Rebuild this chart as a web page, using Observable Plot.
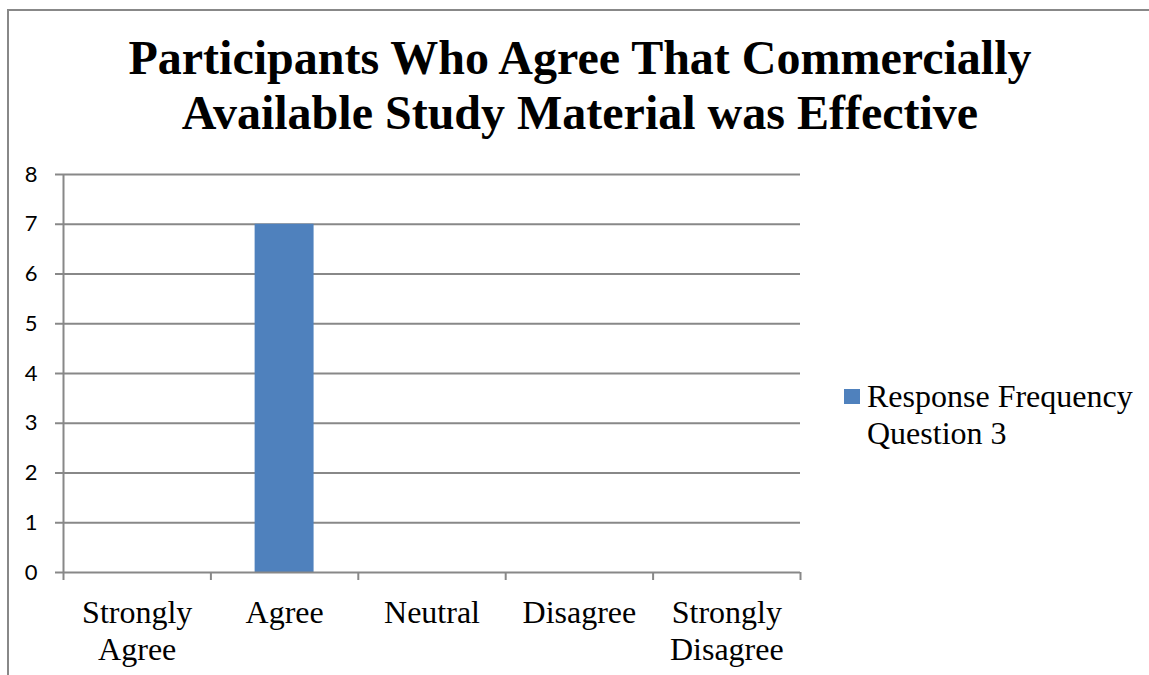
<!DOCTYPE html>
<html>
<head>
<meta charset="utf-8">
<script src="https://cdn.jsdelivr.net/npm/d3@7"></script>
<script src="https://cdn.jsdelivr.net/npm/@observablehq/plot@0.6"></script>
<style>
  html, body { margin: 0; padding: 0; background: #fff; overflow: hidden; }
  #wrap { position: relative; width: 1149px; height: 675px; overflow: hidden; background: #fff; }
  #frame { position: absolute; left: 7px; top: 9px; width: 1300px; height: 800px; border: 2px solid #888; box-sizing: border-box; }
  #title { position: absolute; left: 0; top: 30px; width: 1160px; text-align: center;
           font-family: "Liberation Serif", "Times New Roman", serif; font-weight: bold; font-size: 48px; line-height: 55px; color: #000; }
  #chart { position: absolute; left: 0; top: 0; }
  #legend { position: absolute; left: 844px; top: 378px; font-family: "Liberation Serif", serif; font-size: 32px; line-height: 37px; color: #000; }
  #legend .sw { position: absolute; left: 0; top: 11px; width: 16px; height: 15px; background: #4f81bd; }
  #legend .lbl { position: absolute; left: 23px; top: 0; white-space: nowrap; }
</style>
</head>
<body>
<div id="wrap">
  <div id="frame"></div>
  <div id="chart"></div>
  <div id="title">Participants Who Agree That Commercially<br>Available Study Material was Effective</div>
  <div id="legend"><div class="sw"></div><div class="lbl" id="legendText"></div></div>
</div>
<script>
const categories = ["Strongly Agree", "Agree", "Neutral", "Disagree", "Strongly Disagree"];
const responseFrequency = [0, 7, 0, 0, 0];
const yTicks = [0, 1, 2, 3, 4, 5, 6, 7, 8];
const seriesName = ["Response Frequency", "Question 3"];

const data = categories.map((c, i) => ({category: c, index: i, value: responseFrequency[i]}));
const gray = "#888888";

document.getElementById("legendText").innerHTML = seriesName.join("<br>");

const chart = Plot.plot({
  width: 1149,
  height: 675,
  marginLeft: 63,
  marginRight: 349,
  marginTop: 174,
  marginBottom: 103,
  x: {type: "linear", domain: [0, categories.length]},
  y: {domain: [0, 8]},
  style: {background: "transparent"},
  marks: [
    Plot.gridY(yTicks.slice(1), {stroke: gray, strokeOpacity: 1, strokeWidth: 2}),
    Plot.rectY(data, {x1: d => d.index + 0.3, x2: d => d.index + 0.7, y1: 0, y2: "value", fill: "#4f81bd"}),
    Plot.ruleX([0], {stroke: gray, strokeWidth: 2}),
    Plot.ruleY([0], {stroke: gray, strokeWidth: 2}),
    Plot.axisY(yTicks, {tickSize: 8, stroke: gray, strokeWidth: 2, tickFormat: () => "", label: null}),
    Plot.text(yTicks, {x: 0, y: d => d, text: d => String(d), textAnchor: "end", dx: -26,
      fontSize: 22, fontFamily: "Lato, 'Open Sans', sans-serif", fill: "#000"}),
    Plot.axisX(d3.range(0, categories.length + 1), {tickSize: 8, stroke: gray, strokeWidth: 2, tickFormat: () => "", label: null}),
    Plot.text(data, {x: d => d.index + 0.5, y: 0, text: d => d.category.replace("Strongly ", "Strongly\n"),
      lineAnchor: "top", dy: 24, lineHeight: 1.16, fontSize: 32, fontFamily: "'Liberation Serif', serif", fill: "#000"})
  ]
});
document.getElementById("chart").appendChild(chart);
</script>
</body>
</html>
